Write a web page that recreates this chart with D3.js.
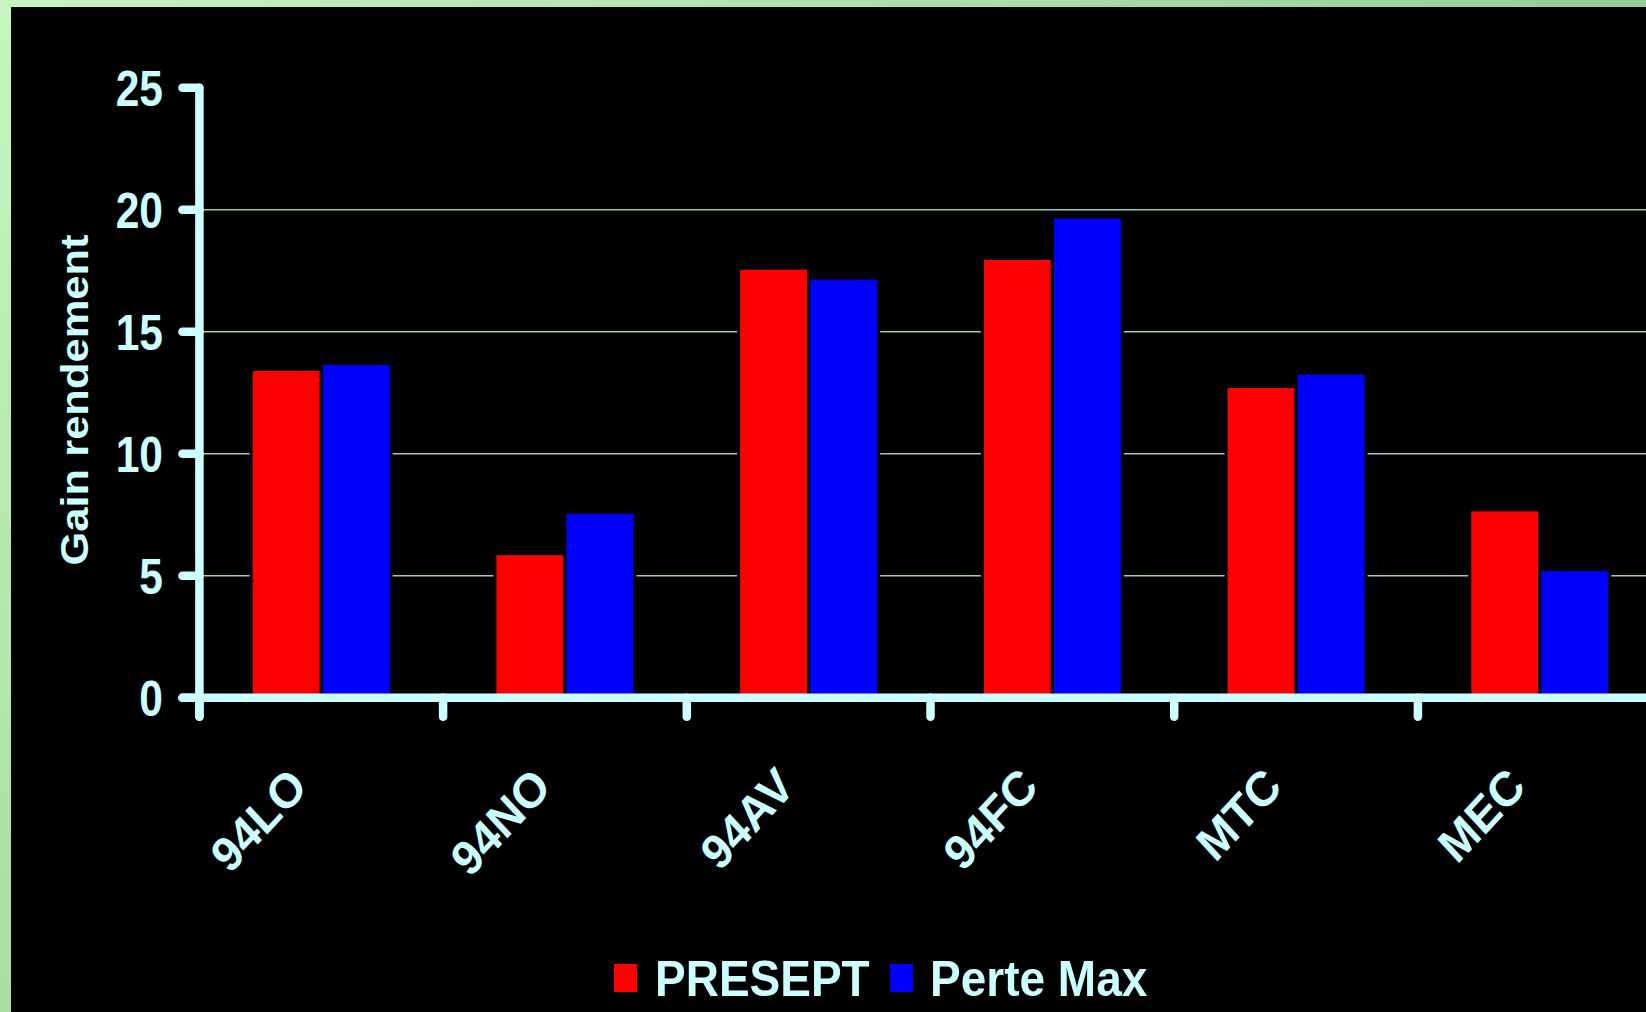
<!DOCTYPE html>
<html>
<head>
<meta charset="utf-8">
<script src="https://cdn.jsdelivr.net/npm/d3@7"></script>
<style>
  html, body { margin: 0; padding: 0; background: #000; overflow: hidden; }
  svg { display: block; }
  text { font-family: "Liberation Sans", Arial, sans-serif; font-weight: bold; fill: #ccffff; }
</style>
</head>
<body>
<script>
// ---- data ----
const categories = ["94LO", "94NO", "94AV", "94FC", "MTC", "MEC"];
const seriesNames = ["PRESEPT", "Perte Max"];
const presept = [13.45, 5.9, 17.6, 18.0, 12.75, 7.7];
const perteMax = [13.7, 7.6, 17.2, 19.7, 13.3, 5.25];
const yTicks = [0, 5, 10, 15, 20, 25];
const gridTicks = [5, 10, 15, 20];
const seriesColors = ["#ff0000", "#0000ff"];

const W = 1646, H = 1012;
const svg = d3.select("body").append("svg").attr("width", W).attr("height", H);

// background: green frame + black slide
const defs = svg.append("defs");
const grad = defs.append("linearGradient").attr("id", "frame")
  .attr("x1", "0%").attr("y1", "0%").attr("x2", "100%").attr("y2", "60%");
grad.append("stop").attr("offset", "0%").attr("stop-color", "#c8f4c2");
grad.append("stop").attr("offset", "100%").attr("stop-color", "#86bf86");
svg.append("rect").attr("width", W).attr("height", H).attr("fill", "url(#frame)");
svg.append("rect").attr("x", 11).attr("y", 7).attr("width", W - 11).attr("height", H - 7).attr("fill", "#000");

// scales
const x0 = 199.4, step = 243.7;
const x = d3.scaleBand().domain(categories)
  .range([x0, x0 + step * categories.length])
  .paddingInner(0.4255).paddingOuter(0.4255 / 2);
const xs = d3.scaleBand().domain(seriesNames).range([0, x.bandwidth()]);
const y = d3.scaleLinear().domain([0, 25]).range([697.7, 87.7]);

const axisColor = "#ccffff";

// gridlines
svg.append("g").selectAll("line").data(gridTicks).join("line")
  .attr("x1", x0).attr("x2", W)
  .attr("y1", d => y(d)).attr("y2", d => y(d))
  .attr("stroke", "#9cc8c8").attr("stroke-width", 1.6);

// bars
const rows = categories.map((c, i) => ({ cat: c, vals: [presept[i], perteMax[i]] }));
const g = svg.append("g").selectAll("g").data(rows).join("g")
  .attr("transform", d => `translate(${x(d.cat)},0)`);
g.selectAll("rect").data(d => d.vals.map((v, j) => ({ s: seriesNames[j], v, j }))).join("rect")
  .attr("x", d => xs(d.s))
  .attr("width", xs.bandwidth())
  .attr("y", d => y(d.v))
  .attr("height", d => y(0) - y(d.v))
  .attr("fill", d => seriesColors[d.j])
  .attr("stroke", "#000").attr("stroke-width", 3);

// axes
const ax = svg.append("g").attr("stroke", axisColor).attr("stroke-width", 8.5).attr("stroke-linecap", "round");
ax.append("line").attr("x1", x0).attr("x2", x0).attr("y1", y(25)).attr("y2", y(0) + 19);
ax.append("line").attr("x1", x0 - 17).attr("x2", W + 10).attr("y1", y(0)).attr("y2", y(0));
ax.selectAll(".yt").data(yTicks).join("line")
  .attr("x1", x0 - 17).attr("x2", x0).attr("y1", d => y(d)).attr("y2", d => y(d));
const boundaries = d3.range(categories.length + 1).map(i => x(categories[0]) - x.step() * x.paddingInner() / 2 + i * x.step());
ax.selectAll(".xt").data(boundaries).join("line")
  .attr("x1", d => d).attr("x2", d => d).attr("y1", y(0)).attr("y2", y(0) + 19);

// y tick labels
svg.append("g").selectAll("text").data(yTicks).join("text")
  .attr("transform", d => `translate(163,${y(d)}) scale(1,1.18)`)
  .attr("y", 15.2)
  .attr("text-anchor", "end")
  .attr("font-size", 42.5)
  .text(d => d);

// y axis title
svg.append("text")
  .attr("transform", "translate(88,400) rotate(-90) scale(1.13,1)")
  .attr("text-anchor", "middle")
  .attr("font-size", 38.5)
  .text("Gain rendement");

// x labels
svg.append("g").selectAll("text").data(categories).join("text")
  .attr("transform", d => `translate(${x(d) + x.bandwidth() / 2 - 12},789) scale(1,1.08) rotate(-45)`)
  .attr("text-anchor", "end")
  .attr("font-size", 45)
  .text(d => d);

// legend
const legendItems = [
  { name: seriesNames[0], color: seriesColors[0], sx: 614, tx: 655 },
  { name: seriesNames[1], color: seriesColors[1], sx: 890, tx: 930 }
];
const lg = svg.append("g");
lg.selectAll("rect").data(legendItems).join("rect")
  .attr("x", d => d.sx).attr("y", 964).attr("width", 23).attr("height", 28)
  .attr("fill", d => d.color);
lg.selectAll("text").data(legendItems).join("text")
  .attr("transform", d => `translate(${d.tx},996) scale(1,1.1)`)
  .attr("font-size", 46)
  .text(d => d.name);
</script>
</body>
</html>
